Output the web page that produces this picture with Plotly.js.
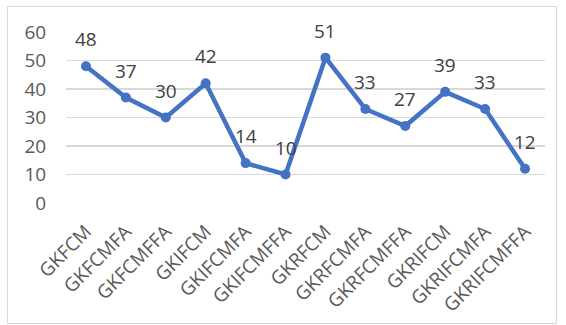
<!DOCTYPE html>
<html>
<head>
<meta charset="utf-8">
<script src="https://cdn.plot.ly/plotly-3.0.1.min.js"></script>
<style>
html,body{margin:0;padding:0;background:#fff;}
#frame{position:absolute;left:7px;top:6px;width:548px;height:316px;border:1px solid #d9d9d9;}
#chart{width:548px;height:316px;}
</style>
</head>
<body>
<div id="frame"><div id="chart"></div></div>
<script>
const categories = ["GKFCM","GKFCMFA","GKFCMFFA","GKIFCM","GKIFCMFA","GKIFCMFFA","GKRFCM","GKRFCMFA","GKRFCMFFA","GKRIFCM","GKRIFCMFA","GKRIFCMFFA"];
const values = [48,37,30,42,14,10,51,33,27,39,33,12];
const yTicks = [0,10,20,30,40,50,60];

const lineColor = "#4472C4";
const fam = "Open Sans, Liberation Sans, sans-serif";

const annotations = categories.map((c, i) => ({
  x: c, y: values[i], text: String(values[i]), showarrow: false,
  xref: "x", yref: "y", yshift: 27,
  font: {family: fam, size: 19, color: "#404040"}
}));

Plotly.newPlot("chart", [{
  type: "scatter", mode: "lines+markers",
  x: categories, y: values,
  line: {color: lineColor, width: 4.5},
  marker: {color: lineColor, size: 10},
  hoverinfo: "none"
}], {
  width: 548, height: 316,
  margin: {l: 58, r: 11, t: 25, b: 120},
  paper_bgcolor: "#fff", plot_bgcolor: "#fff",
  showlegend: false,
  font: {family: fam, size: 19, color: "#595959"},
  xaxis: {
    type: "category", range: [-0.5, 11.5],
    tickangle: -45, showgrid: false, zeroline: false, showline: false,
    ticks: "outside", ticklen: 9, tickcolor: "rgba(0,0,0,0)",
    tickfont: {family: fam, size: 19, color: "#595959"}
  },
  yaxis: {
    range: [0, 60], tickvals: yTicks, ticktext: yTicks.map(String),
    showgrid: true, gridcolor: "#d9d9d9", gridwidth: 1.5,
    zeroline: false, showline: false,
    ticks: "outside", ticklen: 15, tickcolor: "rgba(0,0,0,0)",
    tickfont: {family: fam, size: 19, color: "#595959"}
  },
  annotations: annotations
}, {displayModeBar: false, staticPlot: true});
</script>
</body>
</html>
